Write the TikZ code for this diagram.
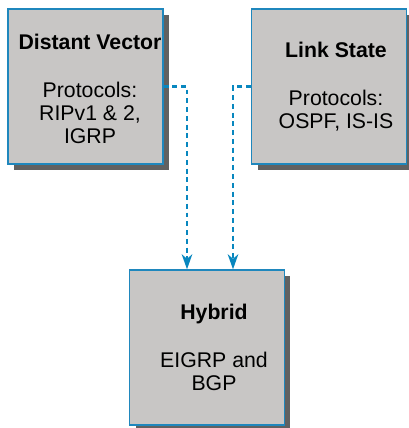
\documentclass[tikz,border=0pt]{standalone}
\usepackage{fontspec}
\setmainfont{Liberation Sans}
\usetikzlibrary{arrows.meta,shadows,calc}
\definecolor{BoxClr}{rgb}{0.784,0.776,0.773}
\definecolor{EdgeClr}{rgb}{0.12,0.53,0.74}
\definecolor{LinkClr}{rgb}{0.03,0.53,0.75}
\definecolor{ShadeClr}{rgb}{0.38,0.38,0.38}

\begin{document}
\begin{tikzpicture}[x=0.02cm,y=-0.02cm,
  box/.style={draw=EdgeClr,line width=0.8pt,fill=BoxClr,minimum width=3.1cm,minimum height=3.1cm,
    inner sep=0pt,drop shadow={shadow xshift=0.12cm,shadow yshift=-0.12cm,fill=ShadeClr,opacity=1}},
  boxtext/.style={align=center,font=\fontsize{12.1}{13.1}\selectfont,inner sep=0pt},
  link/.style={draw=LinkClr,line width=1.2pt,dash pattern=on 2.8pt off 2.2pt,
    -{Stealth[length=0.3cm,width=0.21cm,inset=0.09cm,fill=LinkClr]}}]
\useasboundingbox (0,0) rectangle (408,428);

% the three boxes
\node[box] (dv) at (85.5,86.5) {};
\node[box] (ls) at (329,86.5) {};
\node[box] (hy) at (207,347.5) {};

\node[boxtext] (dvt) at ([xshift=0.09cm,yshift=-0.04cm]dv.center)
  {\textbf{Distant Vector}\\[0.5cm]Protocols:\\RIPv1 \& 2,\\IGRP};
\node[boxtext] (lst) at ([xshift=0.14cm]ls.center)
  {\textbf{Link State}\\[0.5cm]Protocols:\\OSPF, IS-IS};
\node[boxtext] (hyt) at ([xshift=0.14cm]hy.center)
  {\textbf{Hybrid}\\[0.5cm]EIGRP and\\BGP};

% dotted links
\coordinate (in1) at ([xshift=-0.4cm]hy.north);
\coordinate (in2) at ([xshift=0.52cm]hy.north);
\draw[link] (dv.east) -| (in1);
\draw[link] (ls.west) -| (in2);

\end{tikzpicture}
\end{document}
